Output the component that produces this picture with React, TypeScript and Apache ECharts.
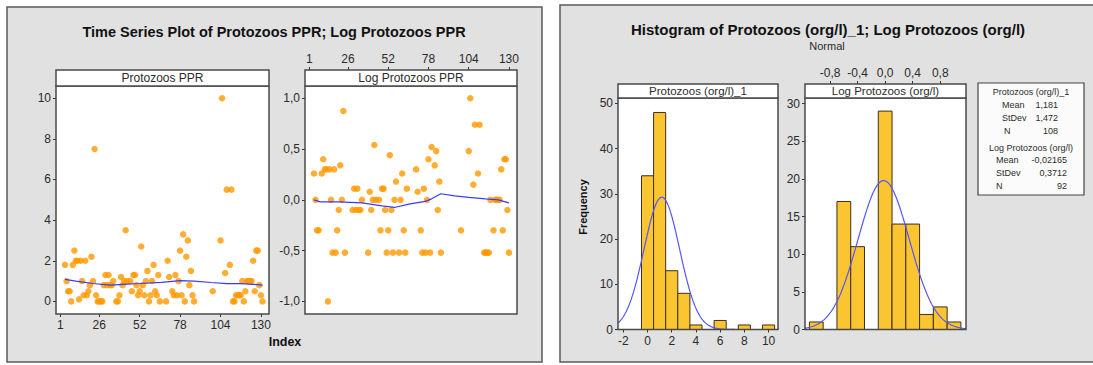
import React, { useEffect, useRef } from "react";
import * as echarts from "echarts";

// ---------- Time series data (index = position + 1; null = missing) ----------
const tsTickLabels = [1, 26, 52, 78, 104, 130];
const rawYTicks = [0, 2, 4, 6, 8, 10];
const logYTicks = [-1, -0.5, 0, 0.5, 1];

const rawValues: (number | null)[] = [
  null, null, null, 1.8, 1.0, 0.5, 0.5, 0, 1.8, 2.5,
  2.0, 2.0, 0.1, 2.0, 1.0, 0.3, 2.0, 0.3, 0.5, 0.8,
  2.2, 1.0, 7.5, 0.3, 0, 0, 0, 0, 0.8, 1.3,
  0.8, 1.3, 0.8, 0.8, 1.0, null, 0, 0, 0.3, 1.2,
  0.8, 1.0, 3.5, 1.0, null, 1.0, 0.5, 1.3, 1.3, 0.8,
  0.3, 0.5, 2.7, 0.8, 0.3, 1.0, 1.5, 0, 0.3, 1.0,
  1.8, 0.5, 0.3, 1.3, 0, null, null, null, 0, 2.0,
  1.2, null, 0.5, 0.3, 1.3, 0.3, 1.0, 2.5, 0.3, 3.3,
  0, 2.2, 3.0, 0.8, 1.5, 0.3, 0, null, null, null,
  null, null, null, null, null, null, null, null, 0.5, null,
  null, null, null, 3.0, 10, null, 1.4, 5.5, null, 1.8,
  5.5, 0, 0, 0.3, 0.3, 0.3, 0.3, 1.0, 0, 0.5,
  1.0, 1.0, 1.0, 1.0, 2.0, 0.5, 2.5, 2.5, 0.8, 0.3,
  0,
];

const logValues: (number | null)[] = [
  null, null, null, 0.26, 0, -0.3, -0.3, null, 0.26, 0.4,
  0.3, 0.3, -1, 0.3, 0, -0.52, 0.3, -0.52, -0.3, -0.1,
  0.34, 0, 0.875, -0.52, null, null, null, null, -0.1, 0.11,
  -0.1, 0.11, -0.1, -0.1, 0, null, null, null, -0.52, 0.08,
  -0.1, 0, 0.54, 0, null, 0, -0.3, 0.11, 0.11, -0.1,
  -0.52, -0.3, 0.44, -0.1, -0.52, 0, 0.18, null, -0.52, 0,
  0.26, -0.3, -0.52, 0.11, null, null, null, null, null, 0.3,
  0.08, null, -0.3, -0.52, 0.11, -0.52, 0, 0.4, -0.52, 0.52,
  null, 0.34, 0.48, -0.1, 0.18, -0.52, null, null, null, null,
  null, null, null, null, null, null, null, null, -0.3, null,
  null, null, null, 0.48, 1.0, null, 0.15, 0.74, null, 0.26,
  0.74, null, null, -0.52, -0.52, -0.52, -0.52, 0, null, -0.3,
  0, 0, 0, 0, 0.3, -0.3, 0.4, 0.4, -0.1, -0.52,
  null,
];

// smoother lines
const rawSmoothIdx = [4, 11, 22, 33, 41, 52, 66, 78, 87, 98, 108, 117, 125, 131];
const rawSmoothVal = [1.08, 1.0, 0.88, 0.8, 0.84, 0.88, 0.94, 1.02, 1.0, 0.93, 0.87, 0.87, 0.84, 0.8];
const logSmoothIdx = [4, 8, 20, 35, 48, 56, 66, 76, 80, 86, 95, 104, 115, 123, 130];
const logSmoothVal = [0.0, -0.02, -0.02, -0.03, -0.06, -0.075, -0.04, -0.015, 0.01, 0.06, 0.04, 0.025, 0.01, 0.0, -0.03];

// ---------- Histogram data ----------
const rawBinCenters = [0, 1, 2, 3, 4, 5, 6, 7, 8, 9, 10];
const rawBinCounts = [34, 48, 13, 8, 1, 0, 2, 0, 1, 0, 1];
const rawBinWidth = 1;
const logBinCenters = [-1.0, -0.8, -0.6, -0.4, -0.2, 0, 0.2, 0.4, 0.6, 0.8, 1.0];
const logBinCounts = [1, 0, 17, 11, 0, 29, 14, 14, 2, 3, 1];
const logBinWidth = 0.2;

const rawMean = 1.181, rawStDev = 1.472, rawN = 108;
const logMean = -0.02165, logStDev = 0.3712, logN = 92;

const histRawXTicks = [-2, 0, 2, 4, 6, 8, 10];
const histRawYTicks = [0, 10, 20, 30, 40, 50];
const histLogXTicks = [-0.8, -0.4, 0, 0.4, 0.8];
const histLogYTicks = [0, 5, 10, 15, 20, 25, 30];

const FONT = '"Liberation Sans", Arial, sans-serif';
const TXT = "#2b2b2b";
const FRAME = "#4a4a4a";
const ORANGE = "#ff9900";
const BLUE = "#3a3aff";
const BAR = "#fbc531";

const comma = (v: number, d: number) => {
  const s = Math.abs(v) < 1e-9 ? (0).toFixed(d) : v.toFixed(d);
  return s.replace(".", ",");
};

function normalCurve(mean: number, sd: number, n: number, w: number, x0: number, x1: number) {
  const pts: number[][] = [];
  const steps = 200;
  for (let k = 0; k <= steps; k++) {
    const x = x0 + ((x1 - x0) * k) / steps;
    const z = (x - mean) / sd;
    pts.push([x, (n * w * Math.exp(-0.5 * z * z)) / (sd * Math.sqrt(2 * Math.PI))]);
  }
  return pts;
}

function axis(gridIndex: number, extra: any) {
  return {
    gridIndex,
    type: "value",
    z: 5,
    axisLine: { show: false, onZero: false },
    splitLine: { show: false },
    axisTick: { show: true, length: 3, lineStyle: { color: "#333", width: 1 }, customValues: extra.ticks },
    axisLabel: {
      color: TXT,
      fontSize: 12,
      fontFamily: FONT,
      margin: 5,
      customValues: extra.ticks,
      formatter: extra.formatter,
    },
    min: extra.min,
    max: extra.max,
    position: extra.position,
    offset: extra.offset || 0,
  };
}

const grids = [
  { left: 56, top: 86, width: 213, height: 228 },
  { left: 305, top: 86, width: 212, height: 228 },
  { left: 618, top: 98, width: 160, height: 231.5 },
  { left: 805, top: 98, width: 161, height: 231.5 },
];

function histRender(color: string) {
  return (params: any, api: any) => {
    const c = api.value(0);
    const n = api.value(1);
    const w = api.value(2);
    const p0 = api.coord([c - w / 2, n]);
    const p1 = api.coord([c + w / 2, 0]);
    return {
      type: "rect",
      shape: { x: p0[0], y: p0[1], width: p1[0] - p0[0], height: p1[1] - p0[1] },
      style: { fill: color, stroke: "#3a3020", lineWidth: 1 },
    };
  };
}

export default function App() {
  const ref = useRef<HTMLDivElement>(null);
  useEffect(() => {
    if (!ref.current) return;
    const chart = echarts.init(ref.current, undefined, { renderer: "svg" });

    const rawPts = rawValues
      .map((v, i) => (v === null ? null : [i + 1, v]))
      .filter((p) => p !== null);
    const logPts = logValues
      .map((v, i) => (v === null ? null : [i + 1, v]))
      .filter((p) => p !== null);
    const rawSmooth = rawSmoothIdx.map((x, i) => [x, rawSmoothVal[i]]);
    const logSmooth = logSmoothIdx.map((x, i) => [x, logSmoothVal[i]]);
    const rawHist = rawBinCenters
      .map((c, i) => [c, rawBinCounts[i], rawBinWidth])
      .filter((d) => d[1] > 0);
    const logHist = logBinCenters
      .map((c, i) => [c, logBinCounts[i], logBinWidth])
      .filter((d) => d[1] > 0);

    const text = (t: string, x: number, y: number, o: any = {}) => ({
      type: "text",
      z: 12,
      x,
      y,
      rotation: o.rotation || 0,
      style: {
        text: t,
        fill: o.fill || TXT,
        fontSize: o.size || 12,
        fontWeight: o.bold ? "bold" : "normal",
        fontFamily: FONT,
        align: o.align || "center",
        verticalAlign: "middle",
      },
    });
    const rect = (x: number, y: number, w: number, h: number, fill: string, stroke: string, lw: number, z: number) => ({
      type: "rect",
      z,
      shape: { x, y, width: w, height: h },
      style: { fill, stroke, lineWidth: lw },
    });

    const graphics: any[] = [
      rect(7, 7, 535, 355, "#e1e1e1", "#5a5a5a", 1.5, 0),
      rect(560, 5, 545, 357, "#e1e1e1", "#5a5a5a", 1.5, 0),
    ];
    grids.forEach((g) => {
      graphics.push(rect(g.left, g.top, g.width, g.height, "#ffffff", "none", 0, 1));
      graphics.push(rect(g.left, g.top, g.width, g.height, "none", FRAME, 1.5, 10));
    });
    // header strips
    graphics.push(rect(56, 70, 213, 16, "#ffffff", FRAME, 1.5, 10));
    graphics.push(text("Protozoos PPR", 162.5, 78, { size: 12 }));
    graphics.push(rect(305, 70, 212, 16, "#ffffff", FRAME, 1.5, 10));
    graphics.push(text("Log Protozoos PPR", 411, 78, { size: 12 }));
    graphics.push(rect(618, 84, 160, 14, "#ffffff", FRAME, 1.5, 10));
    graphics.push(text("Protozoos (org/l)_1", 698, 90.5, { size: 11.5 }));
    graphics.push(rect(805, 84, 161, 14, "#ffffff", FRAME, 1.5, 10));
    graphics.push(text("Log Protozoos (org/l)", 885.5, 90.5, { size: 11.5 }));
    // titles
    graphics.push(text("Time Series Plot of Protozoos PPR; Log Protozoos PPR", 274, 32, { size: 14.5, bold: true, fill: "#111" }));
    graphics.push(text("Index", 285, 342, { size: 12.5, bold: true, fill: "#111" }));
    graphics.push(text("Histogram of Protozoos (org/l)_1; Log Protozoos (org/l)", 828, 29, { size: 15, bold: true, fill: "#111" }));
    graphics.push(text("Normal", 827, 46, { size: 11 }));
    graphics.push(text("Frequency", 583, 207, { size: 11, bold: true, fill: "#111", rotation: Math.PI / 2 }));
    // stats box
    graphics.push(rect(978, 83, 106, 112, "#fbfbfb", "#444", 1.2, 10));
    const s = 9;
    graphics.push(text("Protozoos (org/l)_1", 1031, 92, { size: s }));
    graphics.push(text("Mean", 1002, 104.5, { size: s, align: "left" }));
    graphics.push(text(comma(rawMean, 3), 1058, 104.5, { size: s, align: "right" }));
    graphics.push(text("StDev", 1002, 117.5, { size: s, align: "left" }));
    graphics.push(text(comma(rawStDev, 3), 1058, 117.5, { size: s, align: "right" }));
    graphics.push(text("N", 1004, 130.5, { size: s, align: "left" }));
    graphics.push(text(String(rawN), 1058, 130.5, { size: s, align: "right" }));
    graphics.push(text("Log Protozoos (org/l)", 1031, 148, { size: s }));
    graphics.push(text("Mean", 996, 159.5, { size: s, align: "left" }));
    graphics.push(text(comma(logMean, 5), 1067, 159.5, { size: s, align: "right" }));
    graphics.push(text("StDev", 996, 172.5, { size: s, align: "left" }));
    graphics.push(text(comma(logStDev, 4), 1067, 172.5, { size: s, align: "right" }));
    graphics.push(text("N", 996, 186, { size: s, align: "left" }));
    graphics.push(text(String(logN), 1067, 186, { size: s, align: "right" }));

    const int = (v: number) => String(v);
    const c1 = (v: number) => comma(v, 1);

    chart.setOption({
      animation: false,
      backgroundColor: "#ffffff",
      grid: grids.map((g) => ({ ...g, outerBoundsMode: "none", containLabel: false })),
      xAxis: [
        axis(0, { min: -1.8, max: 135.2, ticks: tsTickLabels, formatter: int, position: "bottom" }),
        axis(1, { min: -1.8, max: 135.2, ticks: tsTickLabels, formatter: int, position: "top", offset: 16 }),
        axis(2, { min: -2.44, max: 10.78, ticks: histRawXTicks, formatter: int, position: "bottom" }),
        axis(3, { min: -1.164, max: 1.174, ticks: histLogXTicks, formatter: c1, position: "top", offset: 14 }),
      ],
      yAxis: [
        axis(0, { min: -0.62, max: 10.6, ticks: rawYTicks, formatter: int, position: "left" }),
        axis(1, { min: -1.124, max: 1.121, ticks: logYTicks, formatter: c1, position: "left" }),
        axis(2, { min: 0, max: 51.2, ticks: histRawYTicks, formatter: int, position: "left" }),
        axis(3, { min: 0, max: 30.74, ticks: histLogYTicks, formatter: int, position: "left" }),
      ],
      graphic: { elements: graphics },
      series: [
        {
          type: "scatter", xAxisIndex: 0, yAxisIndex: 0, data: rawPts, symbolSize: 6.5,
          itemStyle: { color: ORANGE }, z: 3,
        },
        {
          type: "line", xAxisIndex: 0, yAxisIndex: 0, data: rawSmooth, showSymbol: false,
          lineStyle: { color: BLUE, width: 1.2 }, z: 4,
        },
        {
          type: "scatter", xAxisIndex: 1, yAxisIndex: 1, data: logPts, symbolSize: 6.5,
          itemStyle: { color: ORANGE }, z: 3,
        },
        {
          type: "line", xAxisIndex: 1, yAxisIndex: 1, data: logSmooth, showSymbol: false,
          lineStyle: { color: BLUE, width: 1.2 }, z: 4,
        },
        {
          type: "custom", xAxisIndex: 2, yAxisIndex: 2, data: rawHist, renderItem: histRender(BAR),
          encode: { x: 0, y: 1 }, z: 3,
        },
        {
          type: "line", xAxisIndex: 2, yAxisIndex: 2, showSymbol: false,
          data: normalCurve(rawMean, rawStDev, rawN, rawBinWidth, -2.44, 10.78),
          lineStyle: { color: "#5555ff", width: 1.2 }, z: 4, clip: true,
        },
        {
          type: "custom", xAxisIndex: 3, yAxisIndex: 3, data: logHist, renderItem: histRender(BAR),
          encode: { x: 0, y: 1 }, z: 3,
        },
        {
          type: "line", xAxisIndex: 3, yAxisIndex: 3, showSymbol: false,
          data: normalCurve(logMean, logStDev, logN, logBinWidth, -1.164, 1.174),
          lineStyle: { color: "#5555ff", width: 1.2 }, z: 4, clip: true,
        },
      ],
    });
    return () => chart.dispose();
  }, []);
  return (
    <div
      ref={ref}
      style={{ position: "fixed", left: 0, top: 0, width: 1093, height: 365 }}
    />
  );
}
